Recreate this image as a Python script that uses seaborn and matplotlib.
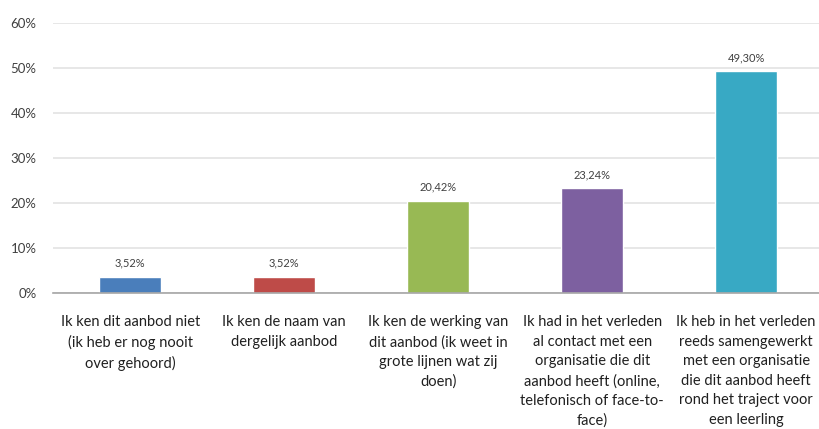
import numpy as np
import pandas as pd
import matplotlib
matplotlib.use("Agg")
import matplotlib.pyplot as plt
import seaborn as sb
from matplotlib.ticker import FuncFormatter

categories = [
    "Ik ken dit aanbod niet\n(ik heb er nog nooit\nover gehoord)",
    "Ik ken de naam van\ndergelijk aanbod",
    "Ik ken de werking van\ndit aanbod (ik weet in\ngrote lijnen wat zij\ndoen)",
    "Ik had in het verleden\nal contact met een\norganisatie die dit\naanbod heeft (online,\ntelefonisch of face-to-\nface)",
    "Ik heb in het verleden\nreeds samengewerkt\nmet een organisatie\ndie dit aanbod heeft\nrond het traject voor\neen leerling",
]
values = [3.52, 3.52, 20.42, 23.24, 49.30]
bar_colors = ["#4A7EBB", "#BE4B48", "#98B954", "#7D60A0", "#38A9C4"]
y_ticks = [0, 10, 20, 30, 40, 50, 60]

sb.set_style("white")
plt.rcParams["font.family"] = ["Lato", "DejaVu Sans"]

df = pd.DataFrame({"cat": categories, "val": values})

fig = plt.figure(figsize=(8.19, 4.29), dpi=100)
ax = fig.add_axes([0.065, 0.317, 0.94, 0.629])

sb.barplot(data=df, x="cat", y="val", hue="cat", palette=bar_colors,
           legend=False, width=0.4, ax=ax, saturation=1)

ax.set_ylim(0, 60)
ax.set_yticks(y_ticks)
ax.yaxis.set_major_formatter(FuncFormatter(lambda v, p: f"{int(v)}%"))
ax.grid(axis="y", color="#E3E3E3", linewidth=1.2)
ax.set_axisbelow(True)
for s in ["top", "right", "left"]:
    ax.spines[s].set_visible(False)
ax.spines["bottom"].set_color("#A6A6A6")
ax.spines["bottom"].set_linewidth(1.2)
ax.set_xlabel("")
ax.set_ylabel("")
ax.tick_params(axis="y", length=0, pad=12, labelsize=9.5, labelcolor="#404040")
ax.tick_params(axis="x", length=0, pad=16, labelsize=10.5, labelcolor="#202020")
for lbl in ax.get_xticklabels():
    lbl.set_linespacing(1.5)
    lbl.set_verticalalignment("top")

for i, v in enumerate(values):
    ax.annotate(f"{v:.2f}%".replace(".", ","), (i, v), xytext=(0, 6),
                textcoords="offset points", ha="center", va="bottom",
                fontsize=8, color="#404040")

fig.savefig("out.png", dpi=100)
